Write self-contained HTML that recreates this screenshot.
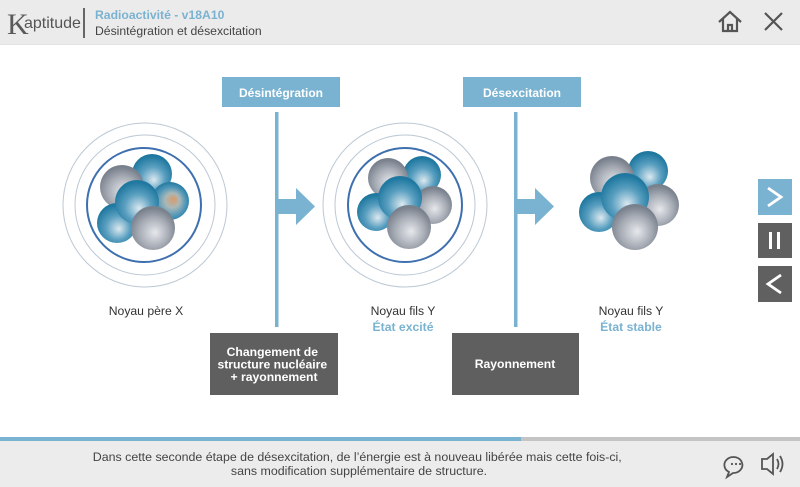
<!DOCTYPE html>
<html><head><meta charset="utf-8">
<style>
html,body{margin:0;padding:0;background:#fff;}
body{width:800px;height:487px;overflow:hidden;position:relative;font-family:"Liberation Sans",Arial,sans-serif;}
svg{position:absolute;left:0;top:0;}
</style></head><body>
<svg width="800" height="487" viewBox="0 0 800 487" xmlns="http://www.w3.org/2000/svg" font-family="Liberation Sans, Arial, sans-serif">
<defs>
<radialGradient id="gb" cx="0.5" cy="0.6" r="0.55" fx="0.55" fy="0.65">
<stop offset="0" stop-color="#dce9f0"/><stop offset="0.55" stop-color="#5a9fc0"/><stop offset="1" stop-color="#1f78a0"/>
</radialGradient>
<radialGradient id="gg" cx="0.5" cy="0.6" r="0.55" fx="0.55" fy="0.6">
<stop offset="0" stop-color="#e6e8ec"/><stop offset="0.6" stop-color="#a8adb6"/><stop offset="1" stop-color="#79818d"/>
</radialGradient>
<radialGradient id="go" cx="0.5" cy="0.55" r="0.55" fx="0.6" fy="0.45">
<stop offset="0" stop-color="#d99b6a"/><stop offset="0.35" stop-color="#a9b8b8"/><stop offset="0.7" stop-color="#4f96b8"/><stop offset="1" stop-color="#2279a0"/>
</radialGradient>
</defs>

<!-- header -->
<rect x="0" y="0" width="800" height="44" fill="#ebebeb"/>
<rect x="0" y="44" width="800" height="1" fill="#e2e2e2"/>
<text x="7" y="34" font-size="30" fill="#5a5a5a" font-family="Liberation Serif, serif">K</text>
<text x="24" y="28" font-size="16" fill="#555">aptitude</text>
<rect x="83" y="8" width="2" height="30" fill="#666"/>
<text x="95" y="19" font-size="12.2" font-weight="bold" fill="#7ab3d1">Radioactivité - v18A10</text>
<text x="95" y="35" font-size="12.2" fill="#444">Désintégration et désexcitation</text>
<!-- home -->
<g fill="none" stroke="#555" stroke-width="2.2" stroke-linejoin="miter">
<path d="M719 22 L730 12 L741 22"/>
<path d="M723 19 V31 H737 V19"/>
<path d="M728 31 V25 H732 V31"/>
</g>
<!-- close -->
<g stroke="#555" stroke-width="2.2">
<line x1="765" y1="13" x2="782" y2="30"/><line x1="782" y1="13" x2="765" y2="30"/>
</g>

<!-- top labels -->
<rect x="222" y="77" width="118" height="30" fill="#7ab3d1"/>
<text x="281" y="97" font-size="12" font-weight="bold" fill="#fff" text-anchor="middle">Désintégration</text>
<rect x="463" y="77" width="118" height="30" fill="#7ab3d1"/>
<text x="522" y="97" font-size="12" font-weight="bold" fill="#fff" text-anchor="middle">Désexcitation</text>

<!-- lines & arrows -->
<rect x="275" y="112" width="3.5" height="215" fill="#7ab3d1"/>
<path d="M277 199 H296 V188 L315 206.5 L296 225 V214 H277 Z" fill="#7ab3d1"/>
<rect x="514" y="112" width="3.5" height="215" fill="#7ab3d1"/>
<path d="M516 199 H535 V188 L554 206.5 L535 225 V214 H516 Z" fill="#7ab3d1"/>

<!-- bottom boxes -->
<rect x="210" y="333" width="128" height="62" fill="#5f5f5f"/>
<text font-size="12.2" font-weight="bold" fill="#fff" text-anchor="middle">
<tspan x="274" y="356">Changement de</tspan>
<tspan x="274" y="368.5">structure nucléaire</tspan>
<tspan x="274" y="381">+ rayonnement</tspan>
</text>
<rect x="452" y="333" width="127" height="62" fill="#5f5f5f"/>
<text x="515" y="368" font-size="12.2" font-weight="bold" fill="#fff" text-anchor="middle">Rayonnement</text>

<!-- nucleus 1 -->
<g fill="none">
<circle cx="145" cy="205" r="82" stroke="#bcc8d4" stroke-width="1"/>
<circle cx="145" cy="205" r="70" stroke="#bcc8d4" stroke-width="1"/>
<circle cx="144" cy="205" r="57" stroke="#3e6fae" stroke-width="2"/>
</g>
<circle cx="152" cy="174" r="20" fill="url(#gb)"/>
<circle cx="122" cy="187" r="22" fill="url(#gg)"/>
<circle cx="117" cy="223" r="20" fill="url(#gb)"/>
<circle cx="170" cy="201" r="19" fill="url(#go)"/>
<circle cx="137" cy="202" r="22" fill="url(#gb)"/>
<circle cx="153" cy="228" r="22" fill="url(#gg)"/>

<!-- nucleus 2 -->
<g fill="none">
<circle cx="405" cy="205" r="82" stroke="#bcc8d4" stroke-width="1"/>
<circle cx="405" cy="205" r="70" stroke="#bcc8d4" stroke-width="1"/>
<circle cx="405" cy="205" r="57" stroke="#3e6fae" stroke-width="2"/>
</g>
<circle cx="422" cy="175" r="19" fill="url(#gb)"/>
<circle cx="388" cy="178" r="20" fill="url(#gg)"/>
<circle cx="376" cy="212" r="19" fill="url(#gb)"/>
<circle cx="433" cy="205" r="19" fill="url(#gg)"/>
<circle cx="400" cy="198" r="22" fill="url(#gb)"/>
<circle cx="409" cy="227" r="22" fill="url(#gg)"/>

<!-- nucleus 3 -->
<circle cx="648" cy="171" r="20" fill="url(#gb)"/>
<circle cx="612" cy="178" r="22" fill="url(#gg)"/>
<circle cx="599" cy="212" r="20" fill="url(#gb)"/>
<circle cx="658" cy="205" r="21" fill="url(#gg)"/>
<circle cx="625" cy="197" r="24" fill="url(#gb)"/>
<circle cx="635" cy="227" r="23" fill="url(#gg)"/>

<!-- labels -->
<text x="146" y="315" font-size="12.2" fill="#333" text-anchor="middle">Noyau père X</text>
<text x="403" y="315" font-size="12.2" fill="#333" text-anchor="middle">Noyau fils Y</text>
<text x="403" y="331" font-size="12.2" font-weight="bold" fill="#7ab3d1" text-anchor="middle">État excité</text>
<text x="631" y="315" font-size="12.2" fill="#333" text-anchor="middle">Noyau fils Y</text>
<text x="631" y="331" font-size="12.2" font-weight="bold" fill="#7ab3d1" text-anchor="middle">État stable</text>

<!-- nav buttons -->
<rect x="758" y="179" width="34" height="36" fill="#7ab3d1"/>
<path d="M768 188 L781 197 L768 206" fill="none" stroke="#fff" stroke-width="2.8"/>
<rect x="758" y="223" width="34" height="35" fill="#606060"/>
<rect x="769" y="232" width="3" height="17" fill="#fff"/>
<rect x="777" y="232" width="3" height="17" fill="#fff"/>
<rect x="758" y="266" width="34" height="36" fill="#606060"/>
<path d="M781 275 L768 284 L781 293" fill="none" stroke="#fff" stroke-width="2.8"/>

<!-- footer -->
<rect x="0" y="441" width="800" height="46" fill="#ececec"/>
<rect x="0" y="437" width="521" height="4" fill="#7ab3d1"/>
<rect x="521" y="437" width="279" height="4" fill="#c4c4c4"/>
<text font-size="12.4" fill="#444" text-anchor="middle">
<tspan x="359" y="461">Dans cette seconde étape de désexcitation, de l’énergie est à nouveau libérée mais cette fois-ci,</tspan>
<tspan x="359" y="475">sans modification supplémentaire de structure.</tspan>
</text>
<!-- chat icon -->
<g fill="none" stroke="#555" stroke-width="1.8">
<path d="M729 472 L727 477 L733 473 A9 8 0 1 0 729 472 Z"/>
</g>
<circle cx="732" cy="464" r="1.1" fill="#555"/>
<circle cx="736" cy="464" r="1.1" fill="#555"/>
<circle cx="740" cy="464" r="1.1" fill="#555"/>
<!-- speaker icon -->
<g fill="none" stroke="#555" stroke-width="1.8" stroke-linejoin="miter">
<path d="M762 459 H767 L773 454 V474 L767 469 H762 Z"/>
<path d="M777 459 Q780 464 777 469"/>
<path d="M780 456 Q785 464 780 472"/>
</g>
</svg>
</body></html>
